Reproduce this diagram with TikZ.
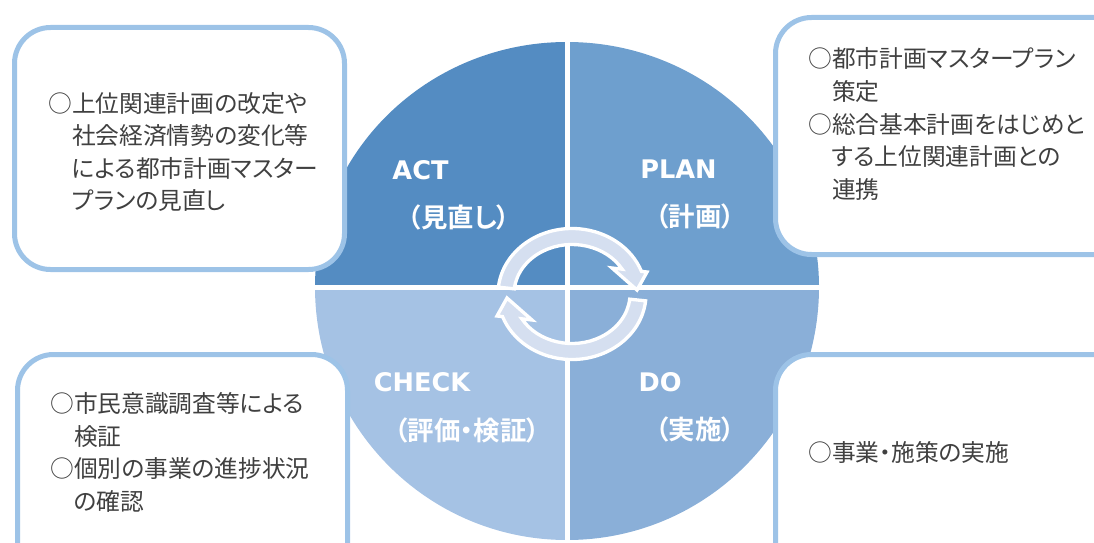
\documentclass[tikz,border=0pt]{standalone}
\usepackage{fontspec}
\usepackage{xcolor}
\usepackage{tikz}
\usetikzlibrary{positioning}
\newfontfamily\jpfont{Noto Sans CJK JP}[RawFeature=+palt]
\newfontfamily\jpboldfont{Noto Sans CJK JP Bold}[RawFeature=+palt]
\newfontfamily\enboldfont{DejaVu Sans Bold}
\definecolor{actblue}{RGB}{84,140,194}
\definecolor{planblue}{RGB}{110,159,206}
\definecolor{doblue}{RGB}{138,175,216}
\definecolor{checkblue}{RGB}{165,194,228}
\definecolor{boxline}{RGB}{157,195,231}
\definecolor{ringfill}{RGB}{213,223,240}
\definecolor{memogray}{RGB}{64,64,64}
\tikzset {
    memobox/.style={draw=boxline, line width=3.75pt, fill=white,
        rounded corners=27pt},
    memotext/.style={anchor=west, align=left, inner sep=0pt, text=memogray,
        font=\jpfont\fontsize{17.8pt}{24.4pt}\selectfont},
    phaseen/.style={inner sep=0pt, text=white,
        font=\enboldfont\fontsize{19.2pt}{22pt}\selectfont},
    phasejp/.style={inner sep=0pt, text=white,
        font=\jpboldfont\fontsize{19.8pt}{22pt}\selectfont},
    cyclearrow/.style={fill=ringfill, draw=white, line width=2.5pt,
        line join=miter}
}

\begin{document}
\begin{tikzpicture}[x=0.75pt, y=0.75pt]

        \useasboundingbox (0,0) rectangle (1094,-542);

        \begin{scope}
        \clip (0,0) rectangle (1094,-542);

        \fill[actblue] (567,-287) -- (315,-287)
            arc[start angle=180, end angle=90, x radius=252, y radius=245] -- cycle;
        \fill[planblue] (567,-287) -- (567,-42)
            arc[start angle=90, end angle=0, x radius=252, y radius=245] -- cycle;
        \fill[doblue] (567,-287) -- (819,-287)
            arc[start angle=0, end angle=-90, x radius=252, y radius=253] -- cycle;
        \fill[checkblue] (567,-287) -- (567,-540)
            arc[start angle=270, end angle=180, x radius=252, y radius=253] -- cycle;
        \draw[white, line width=3.75pt] (567,-30) -- (567,-545) (300,-287) -- (830,-287);

        \foreach \turn in {0,180} {
            \begin{scope}[shift={(572,-294)}, rotate=\turn]
                \path[cyclearrow] (174:74 and 65.5)
                    arc[start angle=174, end angle=20.2, x radius=74, y radius=65.5]
                    -- (75,22) -- (65,4) -- (40,26) -- (30.1:58 and 49.5)
                    arc[start angle=30.1, end angle=174, x radius=58, y radius=49.5]
                    -- cycle;
            \end{scope}
        }

        \node[phaseen] (ACT) at (420.5,-170) {ACT};
        \node[phasejp] (ACTjp) at (459,-217) {（見直し）};
        \node[phaseen] (PLAN) at (678.5,-169) {PLAN};
        \node[phasejp] (PLANjp) at (695,-216) {（計画）};
        \node[phaseen] (CHECK) at (422,-382) {CHECK};
        \node[phasejp] (CHECKjp) at (467,-430) {（評価・検証）};
        \node[phaseen] (DO) at (660,-382) {DO};
        \node[phasejp] (DOjp) at (695,-429) {（実施）};

        \draw[memobox] (14.5,-27.5) rectangle (344.5,-269.5);
        \draw[memobox] (775.5,-17.5) rectangle (1130,-254.5);
        \draw[memobox] (17.5,-354.5) rectangle (347.5,-580);
        \draw[memobox] (775.5,-354.5) rectangle (1130,-580);
        \end{scope}

        \node[memotext] (ACTmemo) at (48,-152) {○上位関連計画の改定や\\
            \phantom{○}社会経済情勢の変化等\\
            \phantom{○}による都市計画マスター\\
            \phantom{○}プランの見直し};
        \node[memotext] (PLANmemo) at (808,-124) {○都市計画マスタープラン\\
            \phantom{○}策定\\
            ○総合基本計画をはじめと\\
            \phantom{○}する上位関連計画との\\
            \phantom{○}連携};
        \node[memotext] (CHECKmemo) at (50,-452.5) {○市民意識調査等による\\
            \phantom{○}検証\\
            ○個別の事業の進捗状況\\
            \phantom{○}の確認};
        \node[memotext] (DOmemo) at (808,-452) {○事業・施策の実施};

    \end{tikzpicture}
\end{document}
